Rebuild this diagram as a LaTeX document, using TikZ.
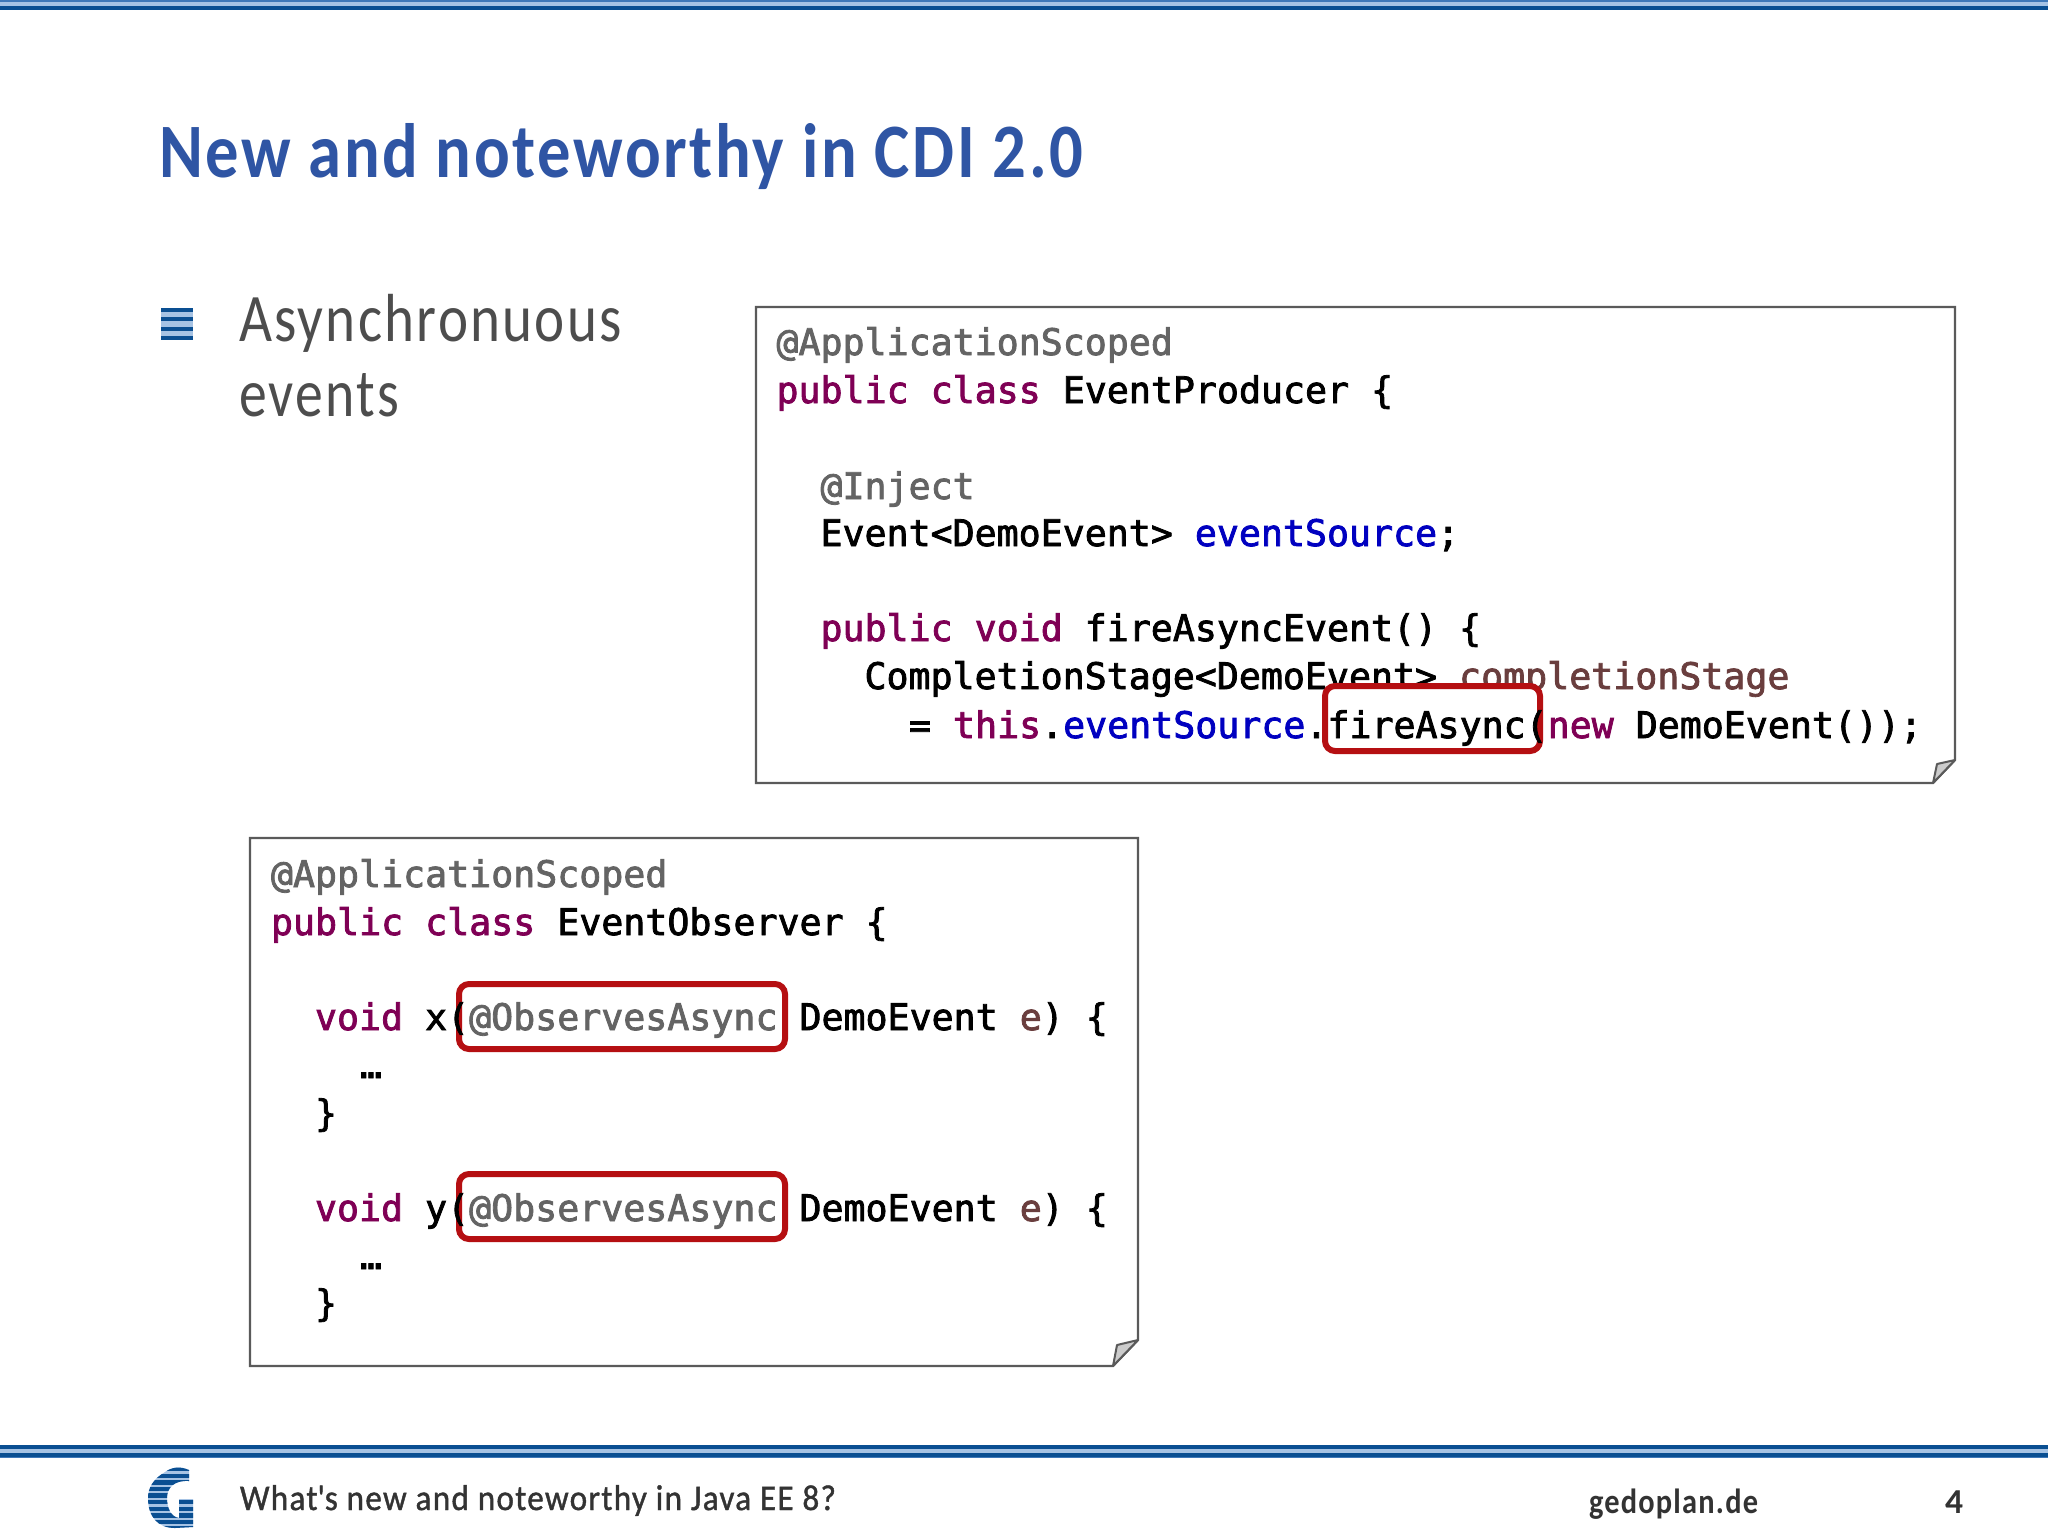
\documentclass[tikz,border=0pt]{standalone}
\usepackage{fontspec}
\usepackage{graphicx}
\setmainfont{Carlito}
\newfontfamily\codefam[FakeBold=2.2]{DejaVu Sans Mono}
\definecolor{titleblue}{HTML}{2F55A4}
\definecolor{barDark}{HTML}{0A4F92}
\definecolor{barMid}{HTML}{3F78B8}
\definecolor{barLight}{HTML}{A6C3E4}
\definecolor{bodygray}{HTML}{4D4D4D}
\definecolor{footgray}{HTML}{333333}
\definecolor{kwcol}{HTML}{7F0055}
\definecolor{ancol}{HTML}{646464}
\definecolor{fdcol}{HTML}{0000C0}
\definecolor{lvcol}{HTML}{6A3E3E}
\definecolor{redbox}{HTML}{B50F12}
\definecolor{boxline}{HTML}{5A5A5A}
\definecolor{foldfill}{HTML}{CCCCCC}
\newcommand{\kw}[1]{\textcolor{kwcol}{#1}}
\newcommand{\an}[1]{\textcolor{ancol}{#1}}
\newcommand{\fd}[1]{\textcolor{fdcol}{#1}}
\newcommand{\lv}[1]{\textcolor{lvcol}{#1}}
\newcommand{\fitw}[2]{\resizebox{#1}{\height}{\addfontfeatures{LetterSpace=4}#2}}
\newcommand{\fitb}[2]{\resizebox{#1}{\height}{\addfontfeatures{LetterSpace=4,FakeBold=1.2}#2}}
\tikzset{
  x=0.5pt,y=-0.5pt,
  code/.style={anchor=base west,inner sep=0pt,outer sep=0pt,text=black,font=\codefam\fontsize{18.29pt}{20pt}\selectfont},
  plainlabel/.style={anchor=base west,inner sep=0pt,outer sep=0pt},
  page/.style={draw=boxline,line width=1.1pt,fill=white},
  foldcorner/.style={draw=boxline,line width=1pt,fill=foldfill,line join=round},
  redframe/.style={draw=redbox,line width=3pt,rounded corners=5pt,fill=white},
}
\begin{document}
\begin{tikzpicture}
\useasboundingbox (0,0) rectangle (2048,1536);
\fill[white] (0,0) rectangle (2048,1536);
% top bar
\fill[barMid] (0,0) rectangle (2048,2);
\fill[barLight] (0,2) rectangle (2048,6);
\fill[barDark] (0,6) rectangle (2048,10);
% bottom bar
\fill[barDark] (0,1445) rectangle (2048,1449);
\fill[barLight] (0,1449) rectangle (2048,1453);
\fill[barDark] (0,1453) rectangle (2048,1457);
\fill[barMid] (0,1457) rectangle (2048,1458);
% title
\node[plainlabel,text=titleblue,font=\fontsize{38.5pt}{40pt}\selectfont\bfseries] (title) at (159,177) {\fitw{462pt}{New and noteworthy in CDI 2.0}};
% bullet
\fill[barLight] (161,308) rectangle (193,340);
\foreach \yy in {308,317,327} \fill[barDark] (161,\yy) rectangle (193,\yy+4.4);
\fill[barDark] (161,336) rectangle (193,340);
% body
\node[plainlabel,text=bodygray,font=\fontsize{34pt}{36pt}\selectfont] (body1) at (239,341) {\fitw{191.5pt}{Asynchronuous}};
\node[plainlabel,text=bodygray,font=\fontsize{34pt}{36pt}\selectfont] (body2) at (239,416) {\fitw{80pt}{events}};
% producer page
\draw[page] (756,307) -- (1955,307) -- (1955,760) -- (1933,783) -- (756,783) -- cycle;
\draw[foldcorner] (1933,783) -- (1937,764) -- (1955,760) -- cycle;
\node[code] (p1) at (776.5,355) {\an{@ApplicationScoped}};
\node[code] (p2) at (776.5,403) {\kw{public} \kw{class} EventProducer \{};
\node[code] (p3) at (820.5,499) {\an{@Inject}};
\node[code] (p4) at (820.5,546) {Event<DemoEvent> \fd{eventSource};};
\node[code] (p5) at (820.5,641) {\kw{public} \kw{void} fireAsyncEvent() \{};
\node[code] (p6) at (864.5,689) {CompletionStage<DemoEvent> \lv{completionStage}};
\draw[redframe] (1325,686) rectangle (1540,751);
\node[code] (p7) at (909,738) {= \kw{this}.\fd{eventSource}.fireAsync(\kw{new} DemoEvent());};
% observer page
\draw[page] (250,838) -- (1138,838) -- (1138,1340) -- (1113,1366) -- (250,1366) -- cycle;
\draw[foldcorner] (1113,1366) -- (1117,1345) -- (1138,1340) -- cycle;
\node[code] (o1) at (271,887) {\an{@ApplicationScoped}};
\node[code] (o2) at (271,935) {\kw{public} \kw{class} EventObserver \{};
\draw[redframe] (459,984) rectangle (785,1049);
\node[code] (o3) at (315,1030) {\kw{void} x(\an{@ObservesAsync} DemoEvent \lv{e}) \{};
\node[code] (o4) at (360,1078) {…};
\node[code] (o5) at (315,1126) {\}};
\draw[redframe] (459,1174) rectangle (785,1239);
\node[code] (o6) at (315,1221) {\kw{void} y(\an{@ObservesAsync} DemoEvent \lv{e}) \{};
\node[code] (o7) at (360,1269) {…};
\node[code] (o8) at (315,1316) {\}};
% logo
\begin{scope}
\clip (189,1470) .. controls (180,1466) and (172,1467) .. (165,1472)
  .. controls (153,1479) and (148,1488) .. (148,1498)
  .. controls (148,1517) and (158,1528) .. (175,1528)
  -- (193,1527) -- (193,1499) -- (179,1499) -- (179,1518)
  .. controls (171,1517) and (167,1508) .. (167,1498)
  .. controls (167,1488) and (174,1480) .. (189,1481) -- cycle;
\fill[barLight] (140,1460) rectangle (200,1535);
\foreach \yy in {1467,1473.6,...,1530} \fill[barDark] (140,\yy) rectangle (200,\yy+4.4);
\end{scope}
% footer
\node[plainlabel,text=footgray,font=\fontsize{18pt}{20pt}\selectfont] (foot) at (240,1510) {\fitb{298pt}{What\textquotesingle s new and noteworthy in Java EE 8?}};
\node[plainlabel,text=footgray,font=\fontsize{17.5pt}{20pt}\selectfont\bfseries] (site) at (1589,1513) {\fitw{84.5pt}{gedoplan.de}};
\node[plainlabel,text=footgray,font=\fontsize{17.5pt}{20pt}\selectfont\bfseries] (pageno) at (1945,1513) {\fitw{9pt}{4}};
\end{tikzpicture}
\end{document}
